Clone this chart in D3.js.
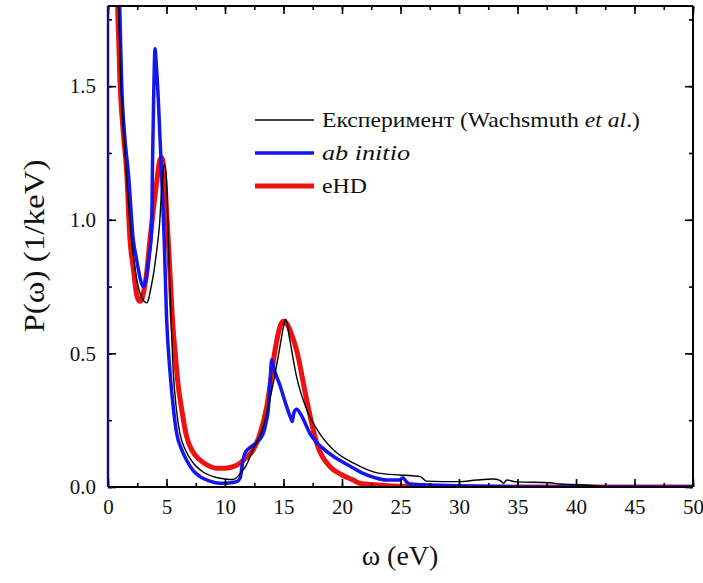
<!DOCTYPE html>
<html><head><meta charset="utf-8">
<script src="https://cdn.jsdelivr.net/npm/d3@7"></script>
<style>body{margin:0;background:#fff}svg{display:block}text{font-family:"Liberation Serif","Times New Roman",serif;fill:#111}</style>
</head><body><svg id="c" width="703" height="583"></svg>
<script>
// ---- data ----
const expX = [0.9,1.1,1.5,1.9,2.3,2.7,3.0,3.15,3.3,3.45,3.6,3.9,4.15,4.4,4.6,4.82,5.0,5.15,5.35,5.58,5.85,6.15,6.6,7.3,8.0,9.0,10.0,10.7,11.3,11.8,12.4,13.27,13.7,14.13,14.7,15.0,15.2,15.5,16.13,16.98,18.1,19.5,21.0,22.0,23.25,24.96,26.0,26.7,27.2,30.0,31.5,32.9,33.5,33.8,34.1,34.9,37.8,38.6,40.0,41.2,42.0,43.0,50.0];
const expY = [1.8,1.52,1.22,0.98,0.82,0.73,0.70,0.692,0.689,0.70,0.73,0.80,0.88,0.98,1.12,1.207,1.15,0.93,0.68,0.43,0.29,0.20,0.14,0.089,0.06,0.039,0.03,0.028,0.05,0.08,0.14,0.226,0.30,0.39,0.526,0.60,0.628,0.56,0.41,0.29,0.20,0.13,0.089,0.068,0.051,0.045,0.042,0.039,0.022,0.02,0.026,0.03,0.025,0.014,0.026,0.019,0.016,0.011,0.009,0.007,0.002,0.0,0.0];
const abX = [1.0,1.17,1.45,1.74,2.16,2.45,2.75,2.9,3.02,3.15,3.3,3.5,3.73,3.8,3.9,4.02,4.1,4.3,4.55,4.8,5.0,5.3,5.6,5.87,6.3,6.72,7.3,7.86,8.7,9.57,10.3,11.0,11.3,11.5,11.7,12.42,13.0,13.27,13.5,13.7,13.85,13.99,14.2,14.7,15.2,15.6,15.75,15.9,16.13,16.5,17.26,18.5,19.8,20.8,21.8,22.8,23.8,24.9,25.2,25.5,25.8,27.0,30.0,33.0,36.0,50.0];
const abY = [1.8,1.51,1.30,1.176,0.926,0.85,0.78,0.757,0.75,0.758,0.79,0.86,0.96,1.20,1.45,1.64,1.60,1.45,1.20,0.93,0.64,0.43,0.29,0.20,0.14,0.10,0.06,0.039,0.022,0.014,0.015,0.02,0.034,0.09,0.126,0.157,0.18,0.20,0.24,0.29,0.39,0.476,0.44,0.38,0.31,0.26,0.245,0.28,0.291,0.27,0.20,0.14,0.10,0.075,0.051,0.035,0.026,0.026,0.035,0.02,0.011,0.008,0.005,0.002,0.0,0.0];
const ehdX = [0.82,1.03,1.3,1.6,1.88,2.16,2.45,2.6,2.74,2.88,3.0,3.3,3.59,3.9,4.16,4.44,4.6,4.8,5.05,5.3,5.55,5.75,5.95,6.3,6.72,7.2,7.86,8.5,9.29,10.0,10.7,11.28,11.8,12.4,13.0,13.57,14.27,14.7,14.98,15.3,15.7,16.13,16.98,17.84,18.97,20.0,20.97,21.5,23.25,24.2,26.0,28.0,50.0];
const ehdY = [1.8,1.51,1.33,1.176,0.926,0.82,0.72,0.70,0.695,0.70,0.72,0.80,0.926,1.05,1.14,1.226,1.232,1.18,1.0,0.80,0.60,0.50,0.40,0.29,0.189,0.135,0.101,0.082,0.07,0.07,0.076,0.089,0.11,0.138,0.20,0.30,0.51,0.60,0.62,0.61,0.57,0.51,0.326,0.164,0.076,0.045,0.026,0.014,0.007,0.004,0.002,0.0,0.0];
const seriesNames = ["Експеримент (Wachsmuth ", "ab initio", "eHD"];
const xTicks = [0,5,10,15,20,25,30,35,40,45,50];
const yTicks = [0.0,0.5,1.0,1.5];

// ---- layout ----
const svg = d3.select("#c");
const L = 108, R = 693, T = 6, B = 487;
const x = d3.scaleLinear().domain([0,50]).range([L,R]);
const y = d3.scaleLinear().domain([0,1.8]).range([B,T]);

const defs = svg.append("defs");
defs.append("clipPath").attr("id","clip").append("rect").attr("x",L).attr("y",T).attr("width",R-L).attr("height",B-T);

const line = d3.line().x(d=>x(d[0])).y(d=>y(d[1])).curve(d3.curveMonotoneX);
const g = svg.append("g").attr("clip-path","url(#clip)");
g.append("path").datum(d3.zip(ehdX,ehdY)).attr("d",line).attr("fill","none").attr("stroke","#ee1111").attr("stroke-width",5).attr("stroke-linejoin","round");
g.append("path").datum(d3.zip(abX,abY)).attr("d",line).attr("fill","none").attr("stroke","#1515ee").attr("stroke-width",3.5).attr("stroke-linejoin","round");
g.append("path").datum(d3.zip(expX,expY)).attr("d",line).attr("fill","none").attr("stroke","#000").attr("stroke-width",1.4).attr("stroke-linejoin","round");

// axes
const minorX = d3.range(0,50.01,2.5);
const minorY = d3.range(0,1.81,0.25);
const axB = d3.axisBottom(x).tickValues(minorX).tickSize(-4).tickFormat("");
const axBM = d3.axisBottom(x).tickValues(xTicks).tickSize(-8).tickPadding(12).tickFormat(d3.format("d"));
const axT = d3.axisTop(x).tickValues(minorX).tickSize(-4).tickFormat("");
const axTM = d3.axisTop(x).tickValues(xTicks).tickSize(-8).tickFormat("");
const axL = d3.axisLeft(y).tickValues(minorY).tickSize(-4).tickFormat("");
const axLM = d3.axisLeft(y).tickValues(yTicks).tickSize(-8).tickPadding(12).tickFormat(d3.format(".1f"));
const axR = d3.axisRight(y).tickValues(minorY).tickSize(-4).tickFormat("");
const axRM = d3.axisRight(y).tickValues(yTicks).tickSize(-8).tickFormat("");
function styleAx(sel, col){
  sel.select(".domain").remove();
  sel.selectAll(".tick line").attr("stroke",col).attr("stroke-width",1.6);
  sel.selectAll(".tick text").attr("font-size",21).attr("font-family","Liberation Serif, serif").attr("fill","#222");
}
svg.append("g").attr("transform",`translate(0,${B})`).call(axB).call(s=>styleAx(s,"#000"));
svg.append("g").attr("transform",`translate(0,${B})`).call(axBM).call(s=>styleAx(s,"#000"));
svg.append("g").attr("transform",`translate(0,${T})`).call(axT).call(s=>styleAx(s,"#000"));
svg.append("g").attr("transform",`translate(0,${T})`).call(axTM).call(s=>styleAx(s,"#000"));
svg.append("g").attr("transform",`translate(${L},0)`).call(axL).call(s=>styleAx(s,"#000"));
svg.append("g").attr("transform",`translate(${L},0)`).call(axLM).call(s=>styleAx(s,"#000"));
svg.append("g").attr("transform",`translate(${R},0)`).call(axR).call(s=>styleAx(s,"#000"));
svg.append("g").attr("transform",`translate(${R},0)`).call(axRM).call(s=>styleAx(s,"#000"));

// frame
svg.append("line").attr("x1",L).attr("x2",R).attr("y1",B).attr("y2",B).attr("stroke","#000").attr("stroke-width",2);
svg.append("line").attr("x1",L).attr("x2",R).attr("y1",T).attr("y2",T).attr("stroke","#000").attr("stroke-width",2);
svg.append("line").attr("x1",R).attr("x2",R).attr("y1",T).attr("y2",B).attr("stroke","#000").attr("stroke-width",2);
svg.append("line").attr("x1",L).attr("x2",L).attr("y1",T).attr("y2",B).attr("stroke","#0a0a8c").attr("stroke-width",2.4);

// axis titles
svg.append("text").attr("x",400).attr("y",565).attr("text-anchor","middle").attr("font-size",28).text("ω (eV)");
svg.append("text").attr("transform","translate(44,246) rotate(-90)").attr("text-anchor","middle").attr("font-size",29)
  .attr("textLength",173).attr("lengthAdjust","spacingAndGlyphs").text("P(ω) (1/keV)");

// legend
const leg = [
  {c:"#000", w:1.4, y:120},
  {c:"#1515ee", w:3.5, y:153},
  {c:"#ee1111", w:5, y:186}
];
leg.forEach((d,i)=>{
  svg.append("line").attr("x1",255).attr("x2",314).attr("y1",d.y).attr("y2",d.y).attr("stroke",d.c).attr("stroke-width",d.w);
});
const t0 = svg.append("text").attr("x",322).attr("y",127).attr("font-size",22)
  .attr("textLength",318).attr("lengthAdjust","spacingAndGlyphs");
t0.append("tspan").text(seriesNames[0]);
t0.append("tspan").attr("font-style","italic").text("et al");
t0.append("tspan").text(".)");
svg.append("text").attr("x",322).attr("y",160).attr("font-size",22).attr("font-style","italic")
  .attr("textLength",88).attr("lengthAdjust","spacingAndGlyphs").text(seriesNames[1]);
svg.append("text").attr("x",322).attr("y",193).attr("font-size",22)
  .attr("textLength",45).attr("lengthAdjust","spacingAndGlyphs").text(seriesNames[2]);
</script></body></html>
